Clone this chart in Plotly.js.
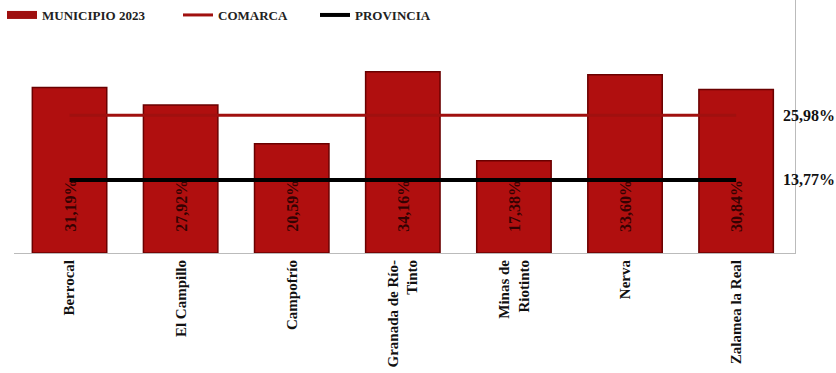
<!DOCTYPE html>
<html>
<head>
<meta charset="utf-8">
<script src="https://cdn.plot.ly/plotly-3.0.1.min.js"></script>
<style>
  html, body { margin: 0; padding: 0; background: #fff; }
  #graph { width: 836px; height: 373px; }
</style>
</head>
<body>
<div id="graph"></div>
<script>
const municipios = ['Berrocal', 'El Campillo', 'Campofrío', 'Granada de Río-<br>Tinto', 'Minas de<br>Riotinto', 'Nerva', 'Zalamea la Real'];
const municipio2023 = [31.19, 27.92, 20.59, 34.16, 17.38, 33.60, 30.84];
const comarca = [25.98, 25.98, 25.98, 25.98, 25.98, 25.98, 25.98];
const provincia = [13.77, 13.77, 13.77, 13.77, 13.77, 13.77, 13.77];

const fmt = v => v.toFixed(2).replace('.', ',') + '%';
const serif = 'Liberation Serif, DejaVu Serif, serif';

const traces = [
  {
    type: 'bar',
    x: municipios,
    y: municipio2023,
    width: 0.67,
    marker: { color: '#b00f0f', line: { color: '#6a0000', width: 1.5 } },
    showlegend: false,
    hoverinfo: 'skip'
  },
  {
    // legend entry only for the bars
    type: 'scatter', mode: 'lines',
    x: [null], y: [null],
    name: 'MUNICIPIO 2023',
    legend: 'legend',
    line: { color: '#9e0f0f', width: 8 }
  },
  {
    type: 'scatter', mode: 'lines',
    x: municipios, y: comarca,
    name: 'COMARCA',
    legend: 'legend2',
    line: { color: '#a0100f', width: 3 }
  },
  {
    type: 'scatter', mode: 'lines',
    x: municipios, y: provincia,
    name: 'PROVINCIA',
    legend: 'legend3',
    line: { color: '#000000', width: 4 }
  }
];

const annotations = municipio2023.map((v, i) => ({
  x: municipios[i], y: 0, xref: 'x', yref: 'y',
  text: fmt(v), textangle: -90, showarrow: false,
  yanchor: 'bottom', yshift: 19,
  font: { family: serif, size: 16, color: 'rgba(30,0,0,0.85)', weight: 'bold' }
}));
annotations.push(
  { x: 6.4, y: comarca[0], xref: 'x', yref: 'y', xanchor: 'left', text: fmt(comarca[0]), showarrow: false,
    font: { family: serif, size: 16, color: '#111', weight: 'bold' } },
  { x: 6.4, y: provincia[0], xref: 'x', yref: 'y', xanchor: 'left', text: fmt(provincia[0]), showarrow: false,
    font: { family: serif, size: 16, color: '#111', weight: 'bold' } }
);

function legendAt(px) {
  return {
    orientation: 'h',
    xref: 'container', yref: 'container',
    x: px / 836, y: 1, xanchor: 'left', yanchor: 'top',
    font: { family: serif, size: 13, color: '#222', weight: 'bold' },
    bgcolor: 'rgba(0,0,0,0)'
  };
}

const layout = {
  width: 836, height: 373,
  margin: { l: 14, r: 41, t: 0, b: 120, autoexpand: false },
  paper_bgcolor: '#fff', plot_bgcolor: '#fff',
  font: { family: serif, color: '#111' },
  xaxis: {
    type: 'category',
    range: [-0.5, 6.53],
    tickangle: -90,
    tickfont: { family: serif, size: 15, color: '#111', weight: 'bold' },
    showline: true, linecolor: '#bbb', linewidth: 1,
    showgrid: false, ticks: ''
  },
  yaxis: {
    range: [0, 47.7],
    showticklabels: false, showgrid: false, zeroline: false,
    showline: true, side: 'right', linecolor: '#bbb', linewidth: 1,
    ticks: ''
  },
  legend: legendAt(2),
  legend2: legendAt(178),
  legend3: legendAt(315),
  annotations: annotations
};

Plotly.newPlot('graph', traces, layout, { displayModeBar: false, staticPlot: true });
</script>
</body>
</html>
